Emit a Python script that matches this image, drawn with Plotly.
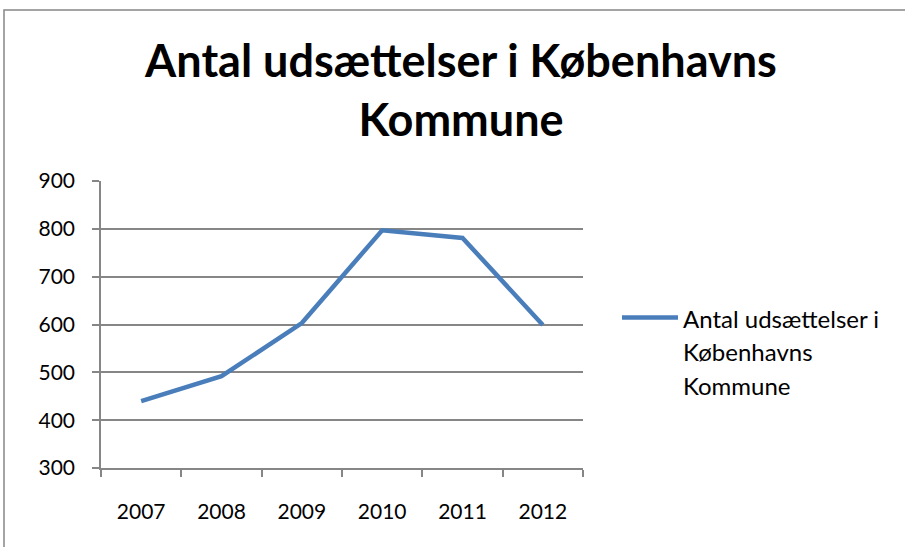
import plotly.graph_objects as go

years = ["2007", "2008", "2009", "2010", "2011", "2012"]
evictions = [440, 492, 603, 797, 781, 599]
series_lines = ["Antal udsættelser i", "Københavns", "Kommune"]
title_text = "Antal udsættelser i Københavns<br>Kommune"
y_ticks = [300, 400, 500, 600, 700, 800, 900]

W, H = 905, 547
L, R, T, B = 101, 583, 181, 468
pw, ph = R - L, B - T

grid = "#868686"
font = "Lato"

series_name = "<br>".join(f'<span style="font-size:24px">{s}</span>' for s in series_lines)

fig = go.Figure()
fig.add_trace(go.Scatter(
    x=years, y=evictions, mode="lines", name=series_name,
    line=dict(color="#4A7EBB", width=4.5),
))

fig.update_layout(
    width=W, height=H,
    margin=dict(l=L, r=W - R, t=T, b=H - B, pad=0),
    paper_bgcolor="white", plot_bgcolor="white",
    font=dict(family=font, color="black", size=21),
    title=dict(text=title_text, x=461 / W, xanchor="center", xref="container",
               y=1 - 77 / H, yanchor="bottom", yref="container",
               font=dict(family=font, size=45, color="black", weight="bold")),
    showlegend=True,
    legend=dict(x=(617 - L) / pw, xanchor="left", y=(B - 294) / ph, yanchor="top",
                valign="top",
                font=dict(family=font, size=26, color="black"),
                itemwidth=56, bgcolor="rgba(0,0,0,0)", tracegroupgap=0),
    xaxis=dict(type="category", range=[-0.5, 5.5], showgrid=False,
               showline=True, linecolor=grid, linewidth=1.5,
               ticks="outside", tickson="boundaries", ticklen=7, tickcolor=grid, tickwidth=1.5,
               ticklabelstandoff=24, tickfont=dict(size=21)),
    yaxis=dict(range=[300, 900], tickvals=y_ticks, showgrid=True, gridcolor=grid, gridwidth=1.5,
               showline=True, linecolor=grid, linewidth=1.5, zeroline=False,
               ticks="outside", ticklen=7, tickcolor=grid, tickwidth=1.5,
               ticklabelstandoff=13, tickfont=dict(size=21)),
)

# chart-area border (only the left and top edges fall inside the picture)
fig.add_shape(type="rect", xref="paper", yref="paper",
              x0=(4 - L) / pw, x1=(1000 - L) / pw,
              y0=(B - 700) / ph, y1=(B - 10) / ph,
              line=dict(color=grid, width=1.5), fillcolor="rgba(0,0,0,0)", layer="below")

fig.write_html("out.html", config={"displayModeBar": False},
               post_script="document.body.style.margin='0';")
